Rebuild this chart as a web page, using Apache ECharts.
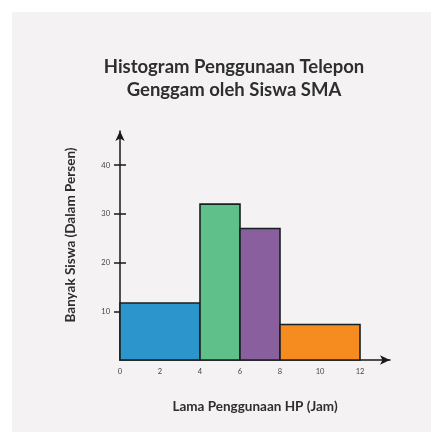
<!DOCTYPE html>
<html>
<head>
<meta charset="utf-8">
<script src="https://cdn.jsdelivr.net/npm/echarts@6/dist/echarts.min.js"></script>
<style>
  html, body { margin: 0; padding: 0; background: #ffffff; }
  #main { width: 431px; height: 432px; }
</style>
</head>
<body>
<div id="main"></div>
<script>
  // histogram bins (jam) and percentages
  var binStart = [0, 4, 6, 8];
  var binEnd = [4, 6, 8, 12];
  var persen = [11.7, 32, 27, 7.3];
  var warna = ["#2b95cc", "#5fc08a", "#8a5f9e", "#f68b1f"];
  var xTicks = [0, 2, 4, 6, 8, 10, 12];
  var yTicks = [10, 20, 30, 40];

  var chart = echarts.init(document.getElementById("main"));

  var data = [];
  for (var i = 0; i < persen.length; i++) {
    data.push({ value: [binStart[i], binEnd[i], persen[i]], itemStyle: { color: warna[i] } });
  }

  var font = "Lato, 'Open Sans', sans-serif";

  chart.setOption({
    backgroundColor: "#ffffff",
    animation: false,
    graphic: [
      {
        type: "rect", z: -10, silent: true,
        shape: { x: 12, y: 12, width: 431, height: 432 },
        style: { fill: "#f4f2f2" }
      },
      {
        type: "text", x: 71, y: 235, rotation: Math.PI / 2,
        style: {
          text: "Banyak Siswa (Dalam Persen)", fill: "#2e2e2e",
          font: "bold 13.5px " + font, align: "center", verticalAlign: "middle"
        }
      }
    ],
    title: {
      text: "Histogram Penggunaan Telepon\nGenggam oleh Siswa SMA",
      left: 229,
      textAlign: "center",
      top: 51,
      textStyle: { fontFamily: font, fontWeight: "bold", fontSize: 18.5, lineHeight: 23, color: "#2e2e2e" }
    },
    grid: { left: 120, right: 41, top: 131, bottom: 72 },
    xAxis: {
      type: "value",
      min: 0,
      max: 13.5,
      splitLine: { show: false },
      axisLine: { lineStyle: { color: "#1a1a1a", width: 1.5 }, symbol: ["none", "arrow"], symbolSize: [7, 10] },
      axisTick: { show: false },
      axisLabel: { customValues: xTicks, margin: 8, fontSize: 7.5, color: "#444", fontFamily: font },
      name: "Lama Penggunaan HP (Jam)",
      nameLocation: "middle",
      nameGap: 40,
      nameTextStyle: { fontFamily: font, fontWeight: "bold", fontSize: 13.5, color: "#2e2e2e" }
    },
    yAxis: [
      {
        type: "value",
        min: 0,
        max: 47,
        splitLine: { show: false },
        axisLine: { show: true, lineStyle: { color: "#1a1a1a", width: 1.5 }, symbol: ["none", "arrow"], symbolSize: [7, 10] },
        axisTick: { show: true, customValues: yTicks, length: 6, lineStyle: { color: "#1a1a1a", width: 1.5 } },
        axisLabel: { customValues: yTicks, margin: 10, fontSize: 7.5, color: "#444", fontFamily: font }
      },
      {
        type: "value",
        position: "left",
        min: 0,
        max: 47,
        splitLine: { show: false },
        axisLine: { show: false },
        axisTick: { show: true, inside: true, customValues: yTicks, length: 6, lineStyle: { color: "#1a1a1a", width: 1.5 } },
        axisLabel: { show: false }
      }
    ],
    series: [
      {
        type: "custom",
        encode: { x: [0, 1], y: 2 },
        data: data,
        renderItem: function (params, api) {
          var p0 = api.coord([api.value(0), api.value(2)]);
          var p1 = api.coord([api.value(1), 0]);
          return {
            type: "rect",
            shape: { x: p0[0], y: p0[1], width: p1[0] - p0[0], height: p1[1] - p0[1] },
            style: { fill: api.visual("color"), stroke: "#172020", lineWidth: 1.6 }
          };
        }
      }
    ]
  });
</script>
</body>
</html>
